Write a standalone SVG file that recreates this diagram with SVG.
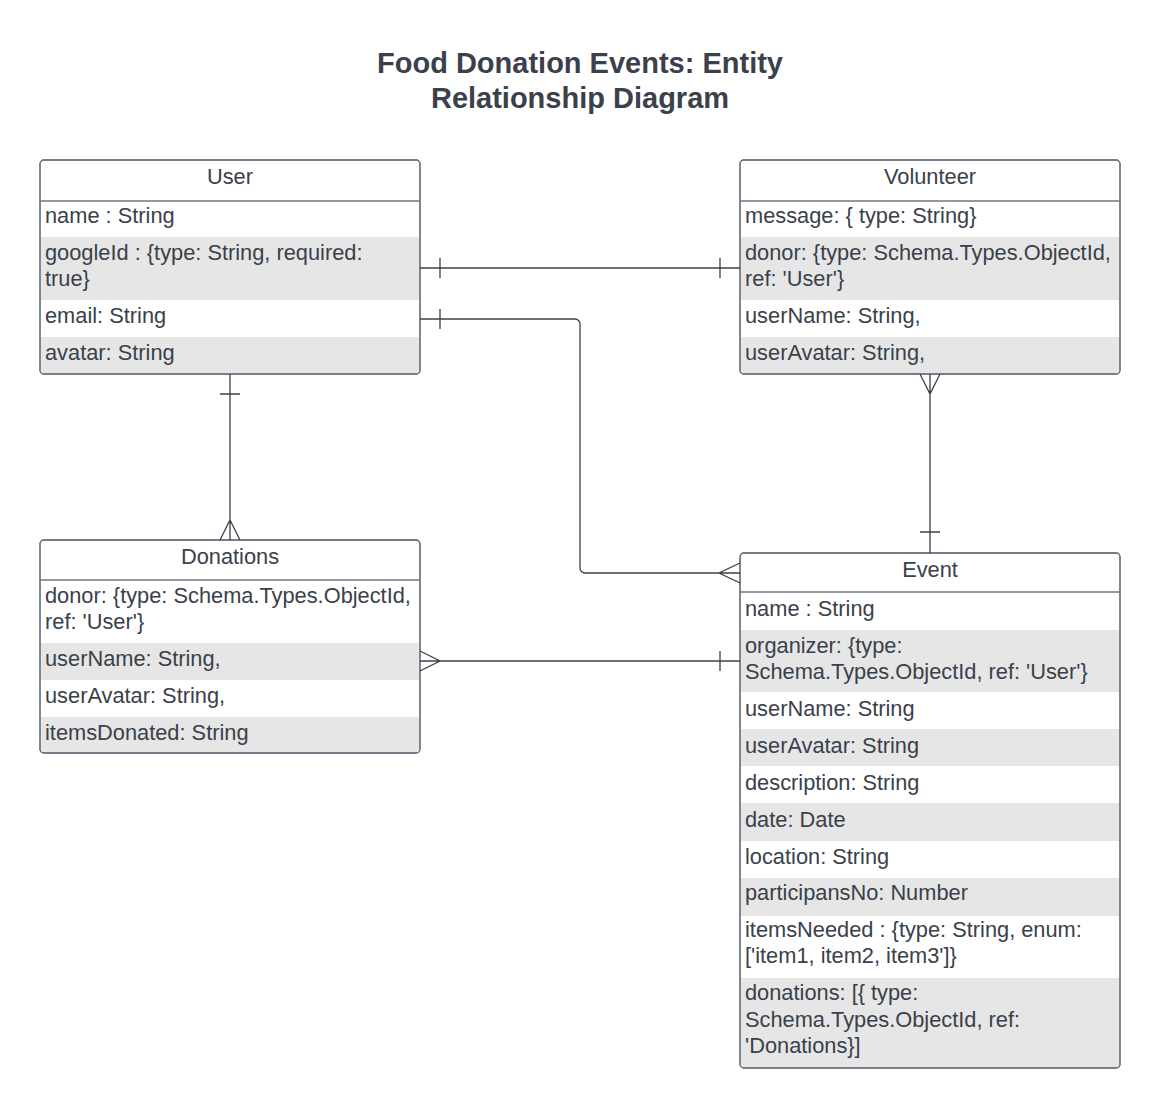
<svg xmlns="http://www.w3.org/2000/svg" width="1160" height="1108" viewBox="0 0 1160 1108">
<style>
text{font-family:"Liberation Sans",Arial,sans-serif;fill:#3a414a}
.t{font-size:29px;font-weight:bold;text-anchor:middle}
.h{font-size:21.8px;text-anchor:middle}
.f{font-size:21.8px}
.box{fill:#fff;stroke:#6f7681;stroke-width:1.3}
.g{fill:#e6e6e6}
.div{stroke:#6f7681;stroke-width:1.3}
.c{fill:none;stroke:#3a414a;stroke-width:1.3}
</style>
<rect width="1160" height="1108" fill="#fff"/>
<text class="t" x="580" y="73">Food Donation Events: Entity</text>
<text class="t" x="580" y="108">Relationship Diagram</text>

<g id="User">
<rect class="box" x="40" y="160" width="380" height="214" rx="4"/>
<rect class="g" x="41" y="237" width="378" height="63"/>
<path class="g" d="M41 337H419V370a3 3 0 0 1-3 3H44a3 3 0 0 1-3-3Z"/>
<line class="div" x1="40" y1="201" x2="420" y2="201"/>
<rect x="40" y="160" width="380" height="214" rx="4" fill="none" stroke="#6f7681" stroke-width="1.3"/>
<text class="h" x="230" y="184">User</text>
<text class="f" x="45" y="223">name : String</text>
<text class="f" x="45" y="260">googleId : {type: String, required:</text>
<text class="f" x="45" y="286">true}</text>
<text class="f" x="45" y="323">email: String</text>
<text class="f" x="45" y="360">avatar: String</text>
</g>

<g id="Volunteer">
<rect class="box" x="740" y="160" width="380" height="214" rx="4"/>
<rect class="g" x="741" y="237" width="378" height="63"/>
<path class="g" d="M741 337H1119V370a3 3 0 0 1-3 3H744a3 3 0 0 1-3-3Z"/>
<line class="div" x1="740" y1="201" x2="1120" y2="201"/>
<rect x="740" y="160" width="380" height="214" rx="4" fill="none" stroke="#6f7681" stroke-width="1.3"/>
<text class="h" x="930" y="184">Volunteer</text>
<text class="f" x="745" y="223">message: { type: String}</text>
<text class="f" x="745" y="260">donor: {type: Schema.Types.ObjectId,</text>
<text class="f" x="745" y="286">ref: 'User'}</text>
<text class="f" x="745" y="323">userName: String,</text>
<text class="f" x="745" y="360">userAvatar: String,</text>
</g>

<g id="Donations">
<rect class="box" x="40" y="540" width="380" height="213" rx="4"/>
<rect class="g" x="41" y="643" width="378" height="37"/>
<path class="g" d="M41 717H419V749a3 3 0 0 1-3 3H44a3 3 0 0 1-3-3Z"/>
<line class="div" x1="40" y1="580" x2="420" y2="580"/>
<rect x="40" y="540" width="380" height="213" rx="4" fill="none" stroke="#6f7681" stroke-width="1.3"/>
<text class="h" x="230" y="564">Donations</text>
<text class="f" x="45" y="603">donor: {type: Schema.Types.ObjectId,</text>
<text class="f" x="45" y="629">ref: 'User'}</text>
<text class="f" x="45" y="666">userName: String,</text>
<text class="f" x="45" y="703">userAvatar: String,</text>
<text class="f" x="45" y="740">itemsDonated: String</text>
</g>

<g id="Event">
<rect class="box" x="740" y="553" width="380" height="515" rx="4"/>
<rect class="g" x="741" y="630" width="378" height="62"/>
<rect class="g" x="741" y="729" width="378" height="37"/>
<rect class="g" x="741" y="803" width="378" height="38"/>
<rect class="g" x="741" y="878" width="378" height="38"/>
<path class="g" d="M741 978H1119V1064a3 3 0 0 1-3 3H744a3 3 0 0 1-3-3Z"/>
<line class="div" x1="740" y1="592" x2="1120" y2="592"/>
<rect x="740" y="553" width="380" height="515" rx="4" fill="none" stroke="#6f7681" stroke-width="1.3"/>
<text class="h" x="930" y="577">Event</text>
<text class="f" x="745" y="616">name : String</text>
<text class="f" x="745" y="653">organizer: {type:</text>
<text class="f" x="745" y="679">Schema.Types.ObjectId, ref: 'User'}</text>
<text class="f" x="745" y="716">userName: String</text>
<text class="f" x="745" y="753">userAvatar: String</text>
<text class="f" x="745" y="790">description: String</text>
<text class="f" x="745" y="827">date: Date</text>
<text class="f" x="745" y="864">location: String</text>
<text class="f" x="745" y="900">participansNo: Number</text>
<text class="f" x="745" y="937">itemsNeeded : {type: String, enum:</text>
<text class="f" x="745" y="963">['item1, item2, item3']}</text>
<text class="f" x="745" y="1000">donations: [{ type:</text>
<text class="f" x="745" y="1027">Schema.Types.ObjectId, ref:</text>
<text class="f" x="745" y="1053">'Donations}]</text>
</g>

<g id="connectors">
<path class="c" d="M420 268H740M440 258V278M720 258V278"/>
<path class="c" d="M420 319H575a5 5 0 0 1 5 5V568a5 5 0 0 0 5 5H740M440 309V329M740 563L719 573L740 583"/>
<path class="c" d="M230 374V540M220 394H240M220 540L230 520L240 540"/>
<path class="c" d="M930 374V553M920 374L930 394L940 374M920 532H940"/>
<path class="c" d="M420 661H740M420 651L440 661L420 671M720 651V671"/>
</g>
</svg>
